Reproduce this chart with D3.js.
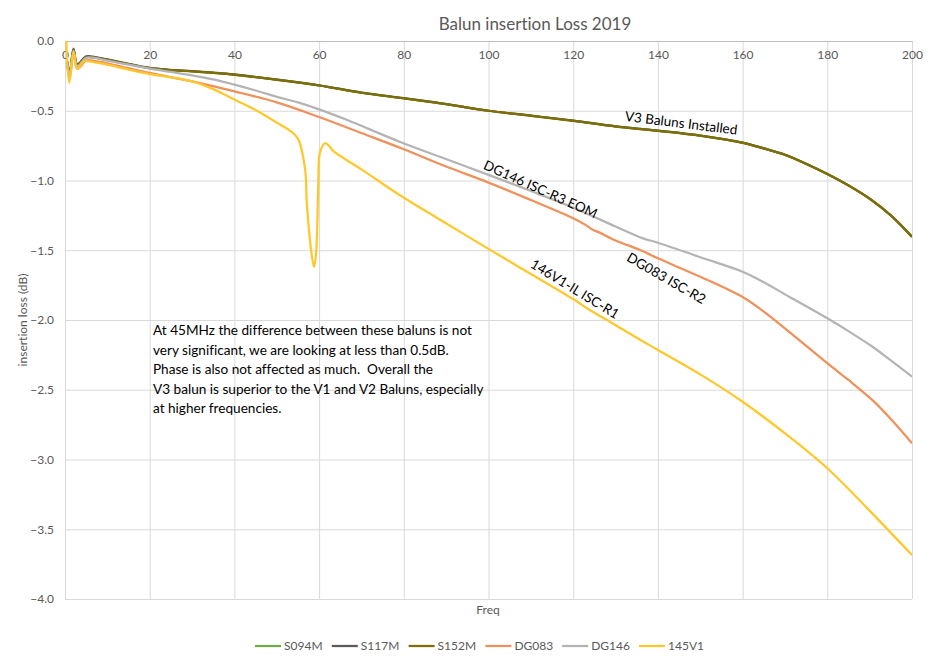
<!DOCTYPE html>
<html>
<head>
<meta charset="utf-8">
<script src="https://cdn.jsdelivr.net/npm/d3@7"></script>
<style>
  body { margin: 0; background: #fff; }
  text { font-family: Lato, "Open Sans", sans-serif; font-variant-ligatures: none; }
</style>
</head>
<body>
<div class="chart"></div>
<script>
// values: [freq MHz, insertion loss dB]
const s094m = [[0.5,-0.15],[1.1,-0.24],[2,-0.06],[2.9,-0.17],[5,-0.115],[6.5,-0.115],[10,-0.134],[15,-0.165],[20,-0.194],[25,-0.208],[30,-0.217],[35,-0.228],[40,-0.241],[50,-0.277],[60,-0.318],[70,-0.37],[80,-0.41],[90,-0.452],[100,-0.5],[110,-0.535],[120,-0.571],[130,-0.612],[140,-0.643],[150,-0.678],[160,-0.729],[165,-0.77],[170,-0.815],[175,-0.88],[180,-0.953],[185,-1.035],[190,-1.13],[195,-1.25],[200,-1.403]];
const s117m = [[0.5,-0.145],[1.1,-0.235],[2,-0.055],[2.9,-0.165],[5,-0.11],[6.5,-0.112],[10,-0.132],[15,-0.163],[20,-0.193],[25,-0.207],[30,-0.216],[35,-0.227],[40,-0.24],[50,-0.277],[60,-0.318],[70,-0.37],[80,-0.41],[90,-0.452],[100,-0.5],[110,-0.535],[120,-0.571],[130,-0.612],[140,-0.643],[150,-0.678],[160,-0.729],[165,-0.77],[170,-0.815],[175,-0.88],[180,-0.953],[185,-1.035],[190,-1.13],[195,-1.25],[200,-1.403]];
const s152m = [[0.5,-0.15],[1.1,-0.24],[2,-0.062],[2.9,-0.172],[5,-0.117],[6.5,-0.117],[10,-0.136],[15,-0.166],[20,-0.195],[25,-0.209],[30,-0.218],[35,-0.229],[40,-0.242],[50,-0.278],[60,-0.319],[70,-0.371],[80,-0.411],[90,-0.453],[100,-0.5],[110,-0.536],[120,-0.572],[130,-0.613],[140,-0.644],[150,-0.679],[160,-0.73],[165,-0.771],[170,-0.816],[175,-0.881],[180,-0.954],[185,-1.036],[190,-1.131],[195,-1.251],[200,-1.404]];
const dg083 = [[0.5,-0.17],[1.1,-0.27],[2,-0.09],[2.9,-0.2],[5,-0.14],[6.5,-0.14],[10,-0.16],[15,-0.195],[20,-0.229],[25,-0.26],[30,-0.289],[40,-0.361],[50,-0.44],[60,-0.545],[70,-0.66],[80,-0.776],[90,-0.9],[100,-1.015],[110,-1.14],[120,-1.27],[123,-1.32],[124.4,-1.35],[126,-1.37],[130,-1.43],[135.8,-1.498],[140,-1.558],[150,-1.69],[160,-1.835],[165,-1.94],[171,-2.085],[180,-2.31],[185,-2.43],[190.6,-2.573],[195,-2.71],[200,-2.884]];
const dg146 = [[0.5,-0.16],[1.1,-0.25],[2,-0.07],[2.9,-0.18],[5,-0.12],[6.5,-0.12],[10,-0.14],[15,-0.17],[20,-0.198],[25,-0.222],[30,-0.246],[35,-0.275],[40,-0.313],[45,-0.355],[50,-0.4],[55,-0.44],[60,-0.49],[66.5,-0.565],[79,-0.722],[88.5,-0.83],[100,-0.96],[110,-1.075],[120,-1.195],[130,-1.33],[136.5,-1.415],[140,-1.446],[150,-1.55],[160,-1.654],[164,-1.713],[171,-1.833],[180,-1.988],[185,-2.08],[190.6,-2.19],[195,-2.29],[200,-2.406]];
const v145 = [[0.3,0.0],[1,-0.3],[2,-0.08],[2.9,-0.2],[4.5,-0.145],[6.5,-0.15],[10,-0.17],[15,-0.205],[20,-0.237],[25,-0.26],[30,-0.289],[35,-0.345],[40,-0.42],[45,-0.495],[50,-0.585],[53,-0.64],[55,-0.7],[56.7,-0.92],[57.1,-1.16],[58.2,-1.52],[58.8,-1.62],[59.3,-1.52],[59.8,-1.04],[60.2,-0.8],[61.4,-0.733],[62.3,-0.75],[63.4,-0.79],[70,-0.92],[79,-1.104],[88.5,-1.28],[100,-1.49],[110,-1.67],[120,-1.85],[124,-1.93],[128,-2.0],[135.7,-2.14],[140,-2.215],[150,-2.39],[160,-2.586],[171,-2.836],[180,-3.063],[190.6,-3.386],[200,-3.685]];

const seriesNames = ['S094M', 'S117M', 'S152M', 'DG083', 'DG146', '145V1'];
const seriesValues = [s094m, s117m, s152m, dg083, dg146, v145];
const seriesColors = ['#70ad47', '#5a5a5a', '#806e00', '#f0905a', '#b4b4b4', '#ffc82a'];

const xTicks = [0, 20, 40, 60, 80, 100, 120, 140, 160, 180, 200];
const yTicks = [0, -0.5, -1, -1.5, -2, -2.5, -3, -3.5, -4];

const curveLabels = [
  {text: 'V3 Baluns Installed', f: 145.5, v: -0.588, angle: 7},
  {text: 'DG146 ISC-R3 EOM', f: 112.3, v: -1.063, angle: 24},
  {text: 'DG083 ISC-R2', f: 142, v: -1.701, angle: 30},
  {text: '146V1-IL ISC-R1', f: 120.4, v: -1.778, angle: 31.5}
];

const noteLines = [
  'At 45MHz the difference between these baluns is not',
  'very significant, we are looking at less than 0.5dB.',
  'Phase is also not affected as much.  Overall the',
  'V3 balun is superior to the V1 and V2 Baluns, especially',
  'at higher frequencies.'
];

const width = 952;
const height = 660;
const svg = d3.select('.chart')
  .append('svg')
  .attr('width', width)
  .attr('height', height);

const x = d3.scaleLinear().domain([0, 200]).range([65, 912]);
const y = d3.scaleLinear().domain([-4, 0]).range([599, 41]);

// gridlines
svg.append('g')
  .attr('transform', `translate(0,${y(-4)})`)
  .call(d3.axisBottom(x).tickValues(xTicks).tickSize(-(y(-4) - y(0))).tickFormat(''))
  .call(g => g.select('.domain').remove())
  .call(g => g.selectAll('line').attr('stroke', '#d9d9d9'));

svg.append('g')
  .attr('transform', `translate(${x(0)},0)`)
  .call(d3.axisLeft(y).tickValues(yTicks).tickSize(-(x(200) - x(0))).tickFormat(''))
  .call(g => g.select('.domain').remove())
  .call(g => g.selectAll('line').attr('stroke', '#d9d9d9'));

// x axis sits at 0 dB, labels under it inside the plot
svg.append('g')
  .attr('transform', `translate(0,${y(0)})`)
  .call(d3.axisBottom(x).tickValues(xTicks).tickSize(0).tickPadding(9).tickFormat(d3.format('d')))
  .call(g => g.select('.domain').attr('stroke', '#bfbfbf'))
  .call(g => g.selectAll('text')
    .attr('fill', '#595959')
    .attr('font-size', '12px')
    .style('font-family', 'Lato, sans-serif'));

svg.append('g')
  .attr('transform', `translate(${x(0)},0)`)
  .call(d3.axisLeft(y).tickValues(yTicks).tickSize(0).tickPadding(11).tickFormat(d3.format('.1f')))
  .call(g => g.select('.domain').remove())
  .call(g => g.selectAll('text')
    .attr('fill', '#595959')
    .attr('font-size', '12px')
    .style('font-family', 'Lato, sans-serif'));

// series
svg.append('clipPath').attr('id', 'plot-clip')
  .append('rect')
  .attr('x', x(0)).attr('y', y(0) - 2)
  .attr('width', x(200) - x(0)).attr('height', y(-4) - y(0) + 2);

const line = d3.line()
  .x(d => x(d[0]))
  .y(d => y(d[1]))
  .curve(d3.curveCatmullRom.alpha(0.5));

svg.append('g')
  .attr('clip-path', 'url(#plot-clip)')
  .selectAll('path')
  .data(seriesValues)
  .enter()
  .append('path')
  .attr('d', line)
  .attr('fill', 'none')
  .attr('stroke', (d, i) => seriesColors[i])
  .attr('stroke-width', 2.25)
  .attr('stroke-linejoin', 'round');

// labels along the curves
svg.selectAll('.curve-label')
  .data(curveLabels)
  .enter()
  .append('text')
  .attr('class', 'curve-label')
  .attr('transform', d => `translate(${x(d.f)},${y(d.v)}) rotate(${d.angle})`)
  .attr('text-anchor', 'middle')
  .attr('dy', '0.35em')
  .attr('font-size', '13.5px')
  .attr('fill', '#000')
  .text(d => d.text);

// note
svg.append('text')
  .attr('x', 153)
  .attr('y', 335)
  .attr('font-size', '13.6px')
  .attr('fill', '#000')
  .style('white-space', 'pre')
  .selectAll('tspan')
  .data(noteLines)
  .enter()
  .append('tspan')
  .attr('x', 153)
  .attr('dy', (d, i) => i === 0 ? 0 : 19.6)
  .text(d => d);

// titles
svg.append('text')
  .attr('x', 535)
  .attr('y', 30)
  .attr('text-anchor', 'middle')
  .attr('font-size', '17px')
  .attr('fill', '#595959')
  .text('Balun insertion Loss 2019');

svg.append('text')
  .attr('x', 488)
  .attr('y', 614)
  .attr('text-anchor', 'middle')
  .attr('font-size', '12px')
  .attr('fill', '#595959')
  .text('Freq');

svg.append('text')
  .attr('transform', `translate(27,${(y(0) + y(-4)) / 2}) rotate(-90)`)
  .attr('text-anchor', 'middle')
  .attr('font-size', '12px')
  .attr('fill', '#595959')
  .text('insertion loss (dB)');

// legend
const legend = svg.selectAll('.legend')
  .data(seriesNames)
  .enter()
  .append('g')
  .attr('class', 'legend')
  .attr('transform', (d, i) => `translate(${255 + i * 76.8},646)`);

legend.append('line')
  .attr('x1', 0).attr('x2', 26)
  .attr('stroke', (d, i) => seriesColors[i])
  .attr('stroke-width', 2.25);

legend.append('text')
  .attr('x', 29)
  .attr('dy', '0.35em')
  .attr('font-size', '12px')
  .attr('fill', '#595959')
  .text(d => d);
</script>
</body>
</html>
